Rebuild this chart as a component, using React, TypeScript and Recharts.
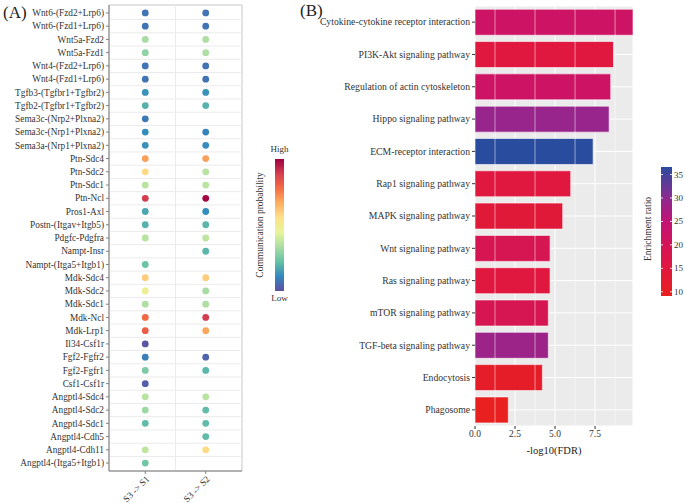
import React from 'react';
import {
  ScatterChart, Scatter, BarChart, Bar, Cell, XAxis, YAxis, CartesianGrid, ReferenceLine, ReferenceArea,
} from 'recharts';

// ---- panel A: ligand-receptor pairs ----
const interactions = [
  'Wnt6-(Fzd2+Lrp6)', 'Wnt6-(Fzd1+Lrp6)', 'Wnt5a-Fzd2', 'Wnt5a-Fzd1', 'Wnt4-(Fzd2+Lrp6)', 'Wnt4-(Fzd1+Lrp6)',
  'Tgfb3-(Tgfbr1+Tgfbr2)', 'Tgfb2-(Tgfbr1+Tgfbr2)', 'Sema3c-(Nrp2+Plxna2)', 'Sema3c-(Nrp1+Plxna2)',
  'Sema3a-(Nrp1+Plxna2)', 'Ptn-Sdc4', 'Ptn-Sdc2', 'Ptn-Sdc1', 'Ptn-Ncl', 'Pros1-Axl', 'Postn-(Itgav+Itgb5)',
  'Pdgfc-Pdgfra', 'Nampt-Insr', 'Nampt-(Itga5+Itgb1)', 'Mdk-Sdc4', 'Mdk-Sdc2', 'Mdk-Sdc1', 'Mdk-Ncl', 'Mdk-Lrp1',
  'Il34-Csf1r', 'Fgf2-Fgfr2', 'Fgf2-Fgfr1', 'Csf1-Csf1r', 'Angptl4-Sdc4', 'Angptl4-Sdc2', 'Angptl4-Sdc1',
  'Angptl4-Cdh5', 'Angptl4-Cdh11', 'Angptl4-(Itga5+Itgb1)',
];
const sourceTargets = ['S3 -> S1', 'S3 -> S2'];

// relative communication probability (0 = low, 1 = high), null = not detected
const probS1 = [
  0.07, 0.07, 0.33, 0.29, 0.07, 0.07, 0.13, 0.19, 0.08, 0.12,
  0.13, 0.69, 0.57, 0.36, 0.89, 0.17, 0.19, 0.36, null, 0.23,
  0.6, 0.48, 0.34, 0.79, 0.81, 0.01, 0.09, 0.26, 0.03, 0.36,
  0.31, 0.21, null, 0.37, 0.24,
];
const probS2 = [
  0.07, 0.07, 0.34, 0.34, 0.07, 0.07, 0.13, 0.19, null, 0.1,
  0.12, 0.69, 0.36, 0.36, 0.99, 0.12, 0.2, 0.37, 0.2, null,
  0.6, 0.33, 0.34, 0.89, 0.68, null, 0.04, 0.2, null, 0.36,
  0.21, 0.21, 0.21, 0.57, null,
];

// ---- panel B: KEGG enrichment ----
const pathways = [
  'Cytokine-cytokine receptor interaction', 'PI3K-Akt signaling pathway', 'Regulation of actin cytoskeleton',
  'Hippo signaling pathway', 'ECM-receptor interaction', 'Rap1 signaling pathway', 'MAPK signaling pathway',
  'Wnt signaling pathway', 'Ras signaling pathway', 'mTOR signaling pathway', 'TGF-beta signaling pathway',
  'Endocytosis', 'Phagosome',
];
const negLogFDR = [9.87, 8.65, 8.48, 8.38, 7.38, 5.98, 5.48, 4.69, 4.69, 4.58, 4.58, 4.21, 2.08];
const enrichmentRatio = [22, 15, 22, 29, 36.6, 15, 14, 19, 15, 19, 28.5, 11, 9.2];
const fdrTicks = [0, 2.5, 5, 7.5];
const fdrMinorTicks = [1.25, 3.75, 6.25, 8.75];
const ratioTicks = [10, 15, 20, 25, 30, 35];

const FONT = '"Liberation Serif", "Times New Roman", serif';
const spectral = ['#5E4FA2', '#3288BD', '#66C2A5', '#ABDDA4', '#E6F598', '#FEE08B', '#FDAE61', '#F46D43', '#D53E4F', '#9E0142'];
const ratioStops = [
  { v: 9.1, c: '#E8201E' }, { v: 15, c: '#E0173F' }, { v: 20, c: '#D41458' },
  { v: 25, c: '#C21276' }, { v: 30, c: '#8C2A90' }, { v: 36.6, c: '#2A4C9E' },
];

const hex = (h: string) => [1, 3, 5].map((i) => parseInt(h.slice(i, i + 2), 16));
const mix = (a: string, b: string, t: number) => {
  const A = hex(a), B = hex(b);
  return 'rgb(' + A.map((x, i) => Math.round(x + (B[i] - x) * t)).join(',') + ')';
};
const probColor = (p: number) => {
  const t = Math.min(Math.max(p, 0), 1) * (spectral.length - 1);
  const i = Math.min(Math.floor(t), spectral.length - 2);
  return mix(spectral[i], spectral[i + 1], t - i);
};
const ratioColor = (v: number) => {
  for (let i = 0; i < ratioStops.length - 1; i++) {
    const a = ratioStops[i], b = ratioStops[i + 1];
    if (v <= b.v || i === ratioStops.length - 2) {
      return mix(a.c, b.c, Math.min(Math.max((v - a.v) / (b.v - a.v), 0), 1));
    }
  }
  return ratioStops[0].c;
};

const dots: { x: number; y: number; p: number }[] = [];
interactions.forEach((_, i) => {
  if (probS1[i] != null) dots.push({ x: 1, y: i + 1, p: probS1[i] as number });
  if (probS2[i] != null) dots.push({ x: 2, y: i + 1, p: probS2[i] as number });
});
const rowIdx = interactions.map((_, i) => i + 1);
const rowSeps = interactions.slice(1).map((_, i) => i + 1.5);

const bars = pathways.map((name, i) => ({ name, value: negLogFDR[i], ratio: enrichmentRatio[i] }));

const tickStyle = { fontSize: 9.3, fill: '#333', fontFamily: FONT };

const Dot = (props: any) => (
  <circle cx={props.cx} cy={props.cy} r={3.4} fill={probColor(props.payload.p)} />
);

// plain one-line tick labels (no wrapping)
const PairTick = (props: any) => (
  <text x={props.x} y={props.y} dy={3.2} textAnchor="end" fontSize={9.3} fill="#333" fontFamily={FONT}>
    {interactions[props.payload.value - 1]}
  </text>
);
const PathTick = (props: any) => (
  <text x={props.x} y={props.y} dy={3.3} textAnchor="end" fontSize={9.7} fill="#333" fontFamily={FONT}>
    {props.payload.value}
  </text>
);

export default function App() {
  const rMin = ratioStops[0].v, rMax = ratioStops[ratioStops.length - 1].v;
  const barTop = 167, barH = 129;
  const ratioY = (v: number) => barTop + barH - ((v - rMin) / (rMax - rMin)) * barH;
  return (
    <div style={{ position: 'absolute', left: 0, top: 0, width: 685, height: 503, background: '#fff', fontFamily: FONT }}>
      <div style={{ position: 'absolute', left: 0, top: 0 }}>
        <ScatterChart width={245} height={503} margin={{ top: 5, right: 3, bottom: 0, left: 0 }}>
          <ReferenceArea x1={0.4} x2={2.6} y1={0.4} y2={35.6} fill="none" stroke="#C8C8C8" strokeWidth={1} />
          {rowSeps.map((v) => (
            <ReferenceLine key={v} y={v} stroke="#EBEBEB" strokeWidth={1} />
          ))}
          <ReferenceLine x={1.5} stroke="#EBEBEB" strokeWidth={1} />
          <XAxis
            type="number" dataKey="x" domain={[0.4, 2.6]} ticks={[1, 2]} height={32}
            tickFormatter={(v) => sourceTargets[v - 1]} angle={-45} textAnchor="end"
            tick={tickStyle} tickSize={3} tickMargin={1} stroke="#808080" interval={0}
          />
          <YAxis
            type="number" dataKey="y" domain={[0.4, 35.6]} ticks={rowIdx} reversed width={109}
            tick={PairTick} tickSize={3} tickMargin={2} stroke="#808080" interval={0}
          />
          <Scatter data={dots} shape={Dot} isAnimationActive={false} />
        </ScatterChart>
      </div>
      <div style={{ position: 'absolute', left: 300, top: 0 }}>
        <BarChart
          width={385} height={503} data={bars} layout="vertical" barCategoryGap="10%"
          margin={{ top: 6, right: 52, bottom: 47, left: 0 }}
        >
          <CartesianGrid fill="#EBEBEB" stroke="#FFFFFF" strokeWidth={1} />
          {fdrMinorTicks.map((v) => (
            <ReferenceLine key={v} x={v} stroke="#FFFFFF" strokeWidth={0.5} />
          ))}
          <XAxis
            type="number" dataKey="value" domain={[0, 9.87]} ticks={fdrTicks} height={30}
            tickFormatter={(v) => v.toFixed(1)} tick={{ ...tickStyle, fontSize: 9.5 }} tickSize={3} tickMargin={1}
            axisLine={false} tickLine={{ stroke: '#333' }} interval={0}
            label={{ value: '-log10(FDR)', position: 'insideBottom', offset: 2, style: { fontSize: 10.5, fill: '#222', fontFamily: FONT } }}
          />
          <YAxis
            type="category" dataKey="name" width={175} tick={PathTick} tickSize={3} tickMargin={2}
            axisLine={false} tickLine={{ stroke: '#333' }} interval={0}
          />
          <Bar dataKey="value" stroke="#FFFFFF" strokeOpacity={0.6} strokeWidth={1} isAnimationActive={false}>
            {bars.map((b) => (
              <Cell key={b.name} fill={ratioColor(b.ratio)} />
            ))}
          </Bar>
        </BarChart>
      </div>
      <svg width={685} height={503} style={{ position: 'absolute', left: 0, top: 0, pointerEvents: 'none' }}>
        <defs>
          <linearGradient id="spec" x1="0" y1="0" x2="0" y2="1">
            {spectral.slice().reverse().map((c, i) => (
              <stop key={c} offset={i / (spectral.length - 1)} stopColor={c} />
            ))}
          </linearGradient>
          <linearGradient id="ratio" x1="0" y1="0" x2="0" y2="1">
            {ratioStops.slice().reverse().map((s) => (
              <stop key={s.v} offset={(rMax - s.v) / (rMax - rMin)} stopColor={s.c} />
            ))}
          </linearGradient>
        </defs>
        <text x={3} y={18} fontSize={17} fill="#222" fontFamily={FONT}>(A)</text>
        <text x={300} y={16} fontSize={17} fill="#222" fontFamily={FONT}>(B)</text>

        <rect x={275} y={159} width={9} height={132} fill="url(#spec)" />
        <text x={279.5} y={152} fontSize={9} textAnchor="middle" fill="#333" fontFamily={FONT}>High</text>
        <text x={279.5} y={301} fontSize={9} textAnchor="middle" fill="#333" fontFamily={FONT}>Low</text>
        <text x={0} y={0} transform="translate(263,225) rotate(-90)" fontSize={9.5} textAnchor="middle" fill="#333" fontFamily={FONT}>
          Communication probability
        </text>

        <rect x={661} y={barTop} width={11} height={barH} fill="url(#ratio)" />
        {ratioTicks.map((v) => (
          <g key={v}>
            <line x1={661} x2={663} y1={ratioY(v)} y2={ratioY(v)} stroke="#fff" strokeWidth={0.8} />
            <line x1={670} x2={672} y1={ratioY(v)} y2={ratioY(v)} stroke="#fff" strokeWidth={0.8} />
            <text x={674} y={ratioY(v) + 3} fontSize={9} fill="#333" fontFamily={FONT}>{v}</text>
          </g>
        ))}
        <text x={0} y={0} transform="translate(651,229) rotate(-90)" fontSize={9.5} textAnchor="middle" fill="#333" fontFamily={FONT}>
          Enrichment ratio
        </text>
      </svg>
    </div>
  );
}
